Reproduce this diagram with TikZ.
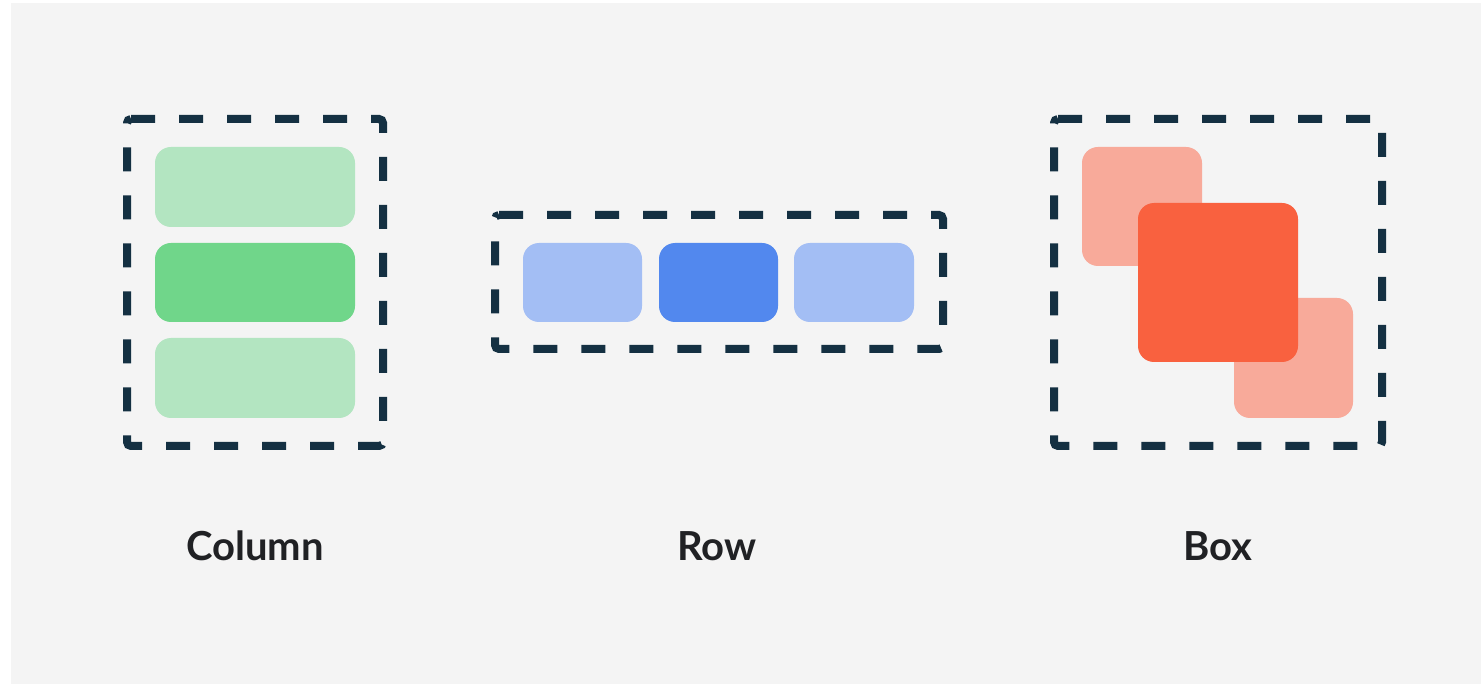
\documentclass[tikz,border=0pt]{standalone}
\usepackage{fontspec}
\setmainfont{Lato}
\definecolor{bg}{HTML}{F4F4F4}
\definecolor{dash}{HTML}{143042}
\definecolor{lgreen}{HTML}{B3E5C1}
\definecolor{dgreen}{HTML}{70D68A}
\definecolor{lblue}{HTML}{A3BEF4}
\definecolor{dblue}{HTML}{5288EE}
\definecolor{lred}{HTML}{F8AA9A}
\definecolor{dred}{HTML}{F9613F}
\definecolor{txt}{HTML}{202124}
\begin{document}
\begin{tikzpicture}[x=1pt,y=-1pt,
  frame/.style={draw=dash,line width=8pt,dash pattern=on 24pt off 24pt,rounded corners=4pt},
  tile/.style={rounded corners=16pt},
  lbl/.style={anchor=base,text=txt,font=\fontsize{40}{48}\selectfont\bfseries,inner sep=0pt}]
\useasboundingbox (0,0) rectangle (1481,684);
\fill[white] (0,0) rectangle (1481,684);
\fill[bg] (11,3) rectangle (1481,684);
% Column
\fill[lgreen,tile] (155,147) rectangle (355,227);
\fill[dgreen,tile] (155,243) rectangle (355,322);
\fill[lgreen,tile] (155,338) rectangle (355,418);
\draw[frame] (127,119) -- (383,119) -- (383,446) -- (127,446) -- cycle;
% Row
\fill[lblue,tile] (523,243) rectangle (642,322);
\fill[dblue,tile] (659,243) rectangle (778,322);
\fill[lblue,tile] (794,243) rectangle (914,322);
\draw[frame] (495,215) -- (943,215) -- (943,349) -- (495,349) -- cycle;
% Box
\fill[lred,tile] (1082,147) rectangle (1202,266);
\fill[lred,tile] (1234,298) rectangle (1353,418);
\fill[dred,tile] (1138,203) rectangle (1298,362);
\draw[frame] (1054,119) -- (1382,119) -- (1382,446) -- (1054,446) -- cycle;
% labels
\node[lbl] (c) at (255,560) {Column};
\node[lbl] (r) at (717,560) {Row};
\node[lbl] (b) at (1218,560) {Box};
\end{tikzpicture}
\end{document}
